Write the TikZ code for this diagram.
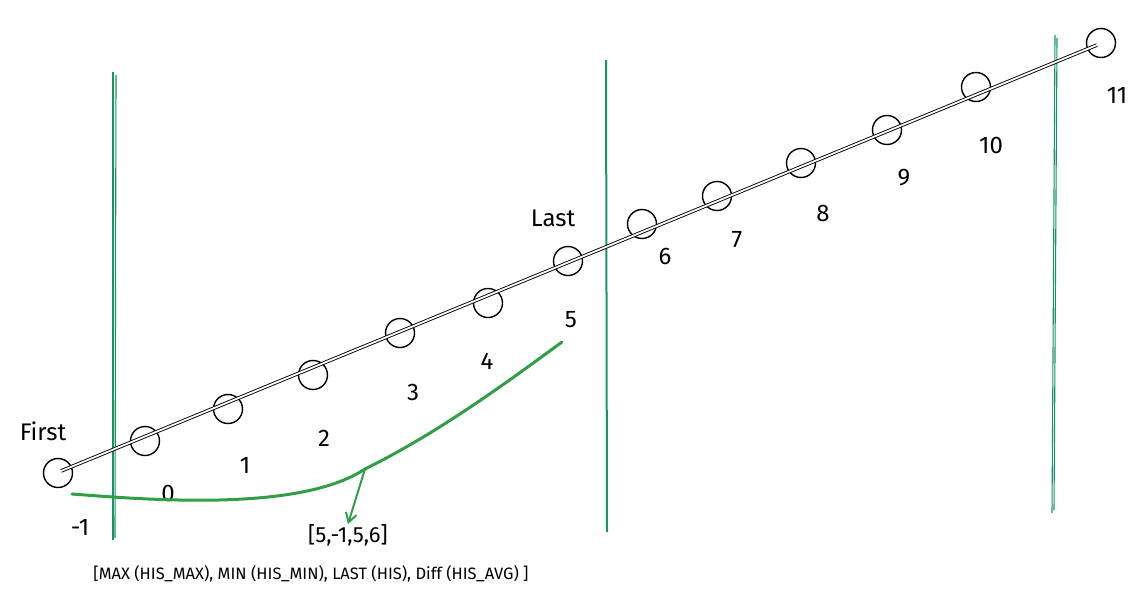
\documentclass[tikz,border=0pt]{standalone}
\usepackage{fontspec}
\setmainfont{Fira Sans}
\usetikzlibrary{arrows.meta}
\definecolor{vgreen}{RGB}{18,150,100}
\definecolor{cgreen}{RGB}{47,158,68}
\begin{document}
\begin{tikzpicture}[x=1pt,y=-1pt,
  pt/.style={circle,draw=black,line width=1.4pt,minimum size=29pt,inner sep=0pt},
  lbl/.style={font=\fontsize{24}{27}\selectfont,text=black,inner sep=0pt},
  vline/.style={draw=vgreen,line width=1.1pt},
  curve/.style={draw=cgreen,line width=3pt,line cap=round},
  arr/.style={draw=cgreen,line width=2pt,-{Straight Barb[length=9pt,width=11pt]}}]
\useasboundingbox (0,0) rectangle (1132,600);
% vertical lines
\coordinate (v1t) at (113,72); \coordinate (v1b) at (113,540);
\coordinate (v1t2) at (116,75); \coordinate (v1b2) at (115,538);
\coordinate (v2t) at (606,60); \coordinate (v2b) at (607,532);
\coordinate (v3t) at (1055,35); \coordinate (v3b) at (1052,513);
\coordinate (v3t2) at (1057,38); \coordinate (v3b2) at (1054,510);
\draw[vline] (v1t) -- (v1b);
\draw[vline] (v1t2) -- (v1b2);
\draw[vline,line width=2pt] (v2t) -- (v2b);
\draw[vline] (v3t) -- (v3b);
\draw[vline] (v3t2) -- (v3b2);
% circles
\node[pt] (cm1) at (58,473) {};
\node[pt] (c0) at (145,441) {};
\node[pt] (c1) at (228,409) {};
\node[pt] (c2) at (313,375) {};
\node[pt] (c3) at (400,333) {};
\node[pt] (c4) at (488,303) {};
\node[pt] (c5) at (568,261) {};
\node[pt] (c6) at (642,224) {};
\node[pt] (c7) at (717,196) {};
\node[pt] (c8) at (801,163) {};
\node[pt] (c9) at (887,130) {};
\node[pt] (c10) at (976,87) {};
\node[pt] (c11) at (1101,43) {};
\draw[double=white,double distance=1.8pt,line width=0.9pt] ([shift={(3,-2)}]cm1.center) -- ([shift={(-4,2)}]c11.center);
% labels
\node[lbl] (lm1) at (80,527) {-1};
\node[lbl] (l0) at (168,493) {0};
\node[lbl] (l1) at (245,465) {1};
\node[lbl] (l2) at (324,438) {2};
\node[lbl] (l3) at (413,392) {3};
\node[lbl] (l4) at (487,361) {4};
\node[lbl] (l5) at (571,320) {5};
\node[lbl] (l6) at (665,256) {6};
\node[lbl] (l7) at (737,240) {7};
\node[lbl] (l8) at (823,213) {8};
\node[lbl] (l9) at (904,178) {9};
\node[lbl] (l10) at (991,145) {10};
\node[lbl] (l11) at (1117,95) {11};
\node[lbl] (first) at (43,431) {First};
\node[lbl] (last) at (553,218) {Last};
% green curve
\coordinate (gs) at (72,494);
\coordinate (gm) at (365,469);
\coordinate (ge) at (562,342);
\draw[curve] (gs) .. controls (150,500) and (300,512) .. (gm) .. controls (440,432) and (510,380) .. (ge);
\node[lbl,font=\fontsize{22}{26}\selectfont] (res) at (348,535) {[5,-1,5,6]};
\draw[arr] (gm) -- (res.north);
\node[inner sep=0pt,font=\fontsize{16.5}{19}\selectfont,text=black] (cap) at (311,574) {[MAX (HIS\_MAX), MIN (HIS\_MIN), LAST (HIS), Diff (HIS\_AVG) ]};
\end{tikzpicture}
\end{document}
